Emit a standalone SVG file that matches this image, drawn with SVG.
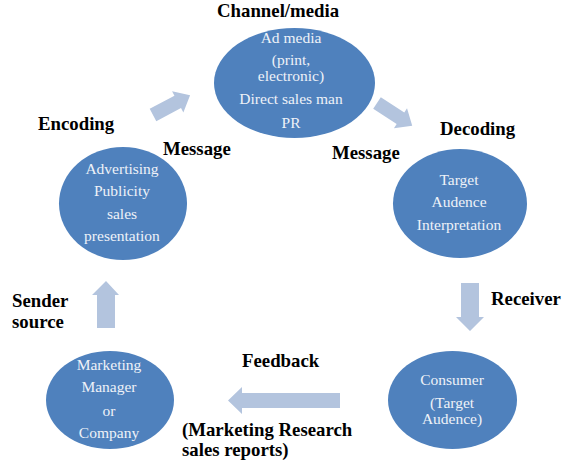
<svg xmlns="http://www.w3.org/2000/svg" width="568" height="470" viewBox="0 0 568 470">
<style>
.node{fill:#4f81bd;}
.in{font-family:'Liberation Serif','Times New Roman','DejaVu Serif',serif;font-size:15.5px;fill:#eef2f8;text-anchor:middle;}
.lbl{font-family:'Liberation Serif','Times New Roman','DejaVu Serif',serif;font-size:18.8px;font-weight:bold;fill:#000;}
.arr{fill:#b3c4de;}
</style>
<defs>
<path id="arrow" d="M0,-7 L28,-7 L28,-12 L42,0 L28,12 L28,7 L0,7 Z"/>
</defs>
<rect width="568" height="470" fill="#fff"/>
<g id="connectors">
<use href="#arrow" class="arr" transform="translate(153,115) rotate(-28)"/>
<use href="#arrow" class="arr" transform="translate(377,103) rotate(33)"/>
<path class="arr" d="M461,283 L479,283 L479,317 L484,317 L470,331 L456,317 L461,317 Z"/>
<path class="arr" d="M340,393 L340,408 L242,408 L242,414 L228,400.5 L242,387 L242,393 Z"/>
<path class="arr" d="M97,328 L115,328 L115,295 L119,295 L106,281 L92,295 L97,295 Z"/>
</g>
<g id="channel">
<ellipse class="node" cx="294.5" cy="83" rx="80.5" ry="55"/>
<text class="in" x="291" y="43">Ad media</text>
<text class="in" x="291" y="65">(print,</text>
<text class="in" x="291" y="81">electronic)</text>
<text class="in" x="291" y="104">Direct sales man</text>
<text class="in" x="291" y="128">PR</text>
</g>
<g id="encoding">
<ellipse class="node" cx="123" cy="203.5" rx="64" ry="56.5"/>
<text class="in" x="122" y="174">Advertising</text>
<text class="in" x="122" y="196">Publicity</text>
<text class="in" x="122" y="219">sales</text>
<text class="in" x="122" y="241">presentation</text>
</g>
<g id="decoding">
<ellipse class="node" cx="460" cy="203.5" rx="67" ry="54.5"/>
<text class="in" x="459" y="185">Target</text>
<text class="in" x="459" y="207">Audence</text>
<text class="in" x="459" y="230">Interpretation</text>
</g>
<g id="sender">
<ellipse class="node" cx="110" cy="400" rx="64" ry="49"/>
<text class="in" x="109" y="370">Marketing</text>
<text class="in" x="109" y="392">Manager</text>
<text class="in" x="109" y="416">or</text>
<text class="in" x="109" y="438">Company</text>
</g>
<g id="consumer">
<ellipse class="node" cx="452.5" cy="400" rx="64.5" ry="49"/>
<text class="in" x="452" y="385">Consumer</text>
<text class="in" x="452" y="408">(Target</text>
<text class="in" x="452" y="424">Audence)</text>
</g>
<g id="labels">
<text class="lbl" x="217" y="17">Channel/media</text>
<text class="lbl" x="38" y="130">Encoding</text>
<text class="lbl" x="163" y="155">Message</text>
<text class="lbl" x="440" y="135">Decoding</text>
<text class="lbl" x="332" y="159">Message</text>
<text class="lbl" x="491" y="305">Receiver</text>
<text class="lbl" x="12" y="307">Sender</text>
<text class="lbl" x="12" y="328">source</text>
<text class="lbl" x="242" y="367">Feedback</text>
<text class="lbl" x="182" y="436">(Marketing Research</text>
<text class="lbl" x="182" y="456">sales reports)</text>
</g>
</svg>
